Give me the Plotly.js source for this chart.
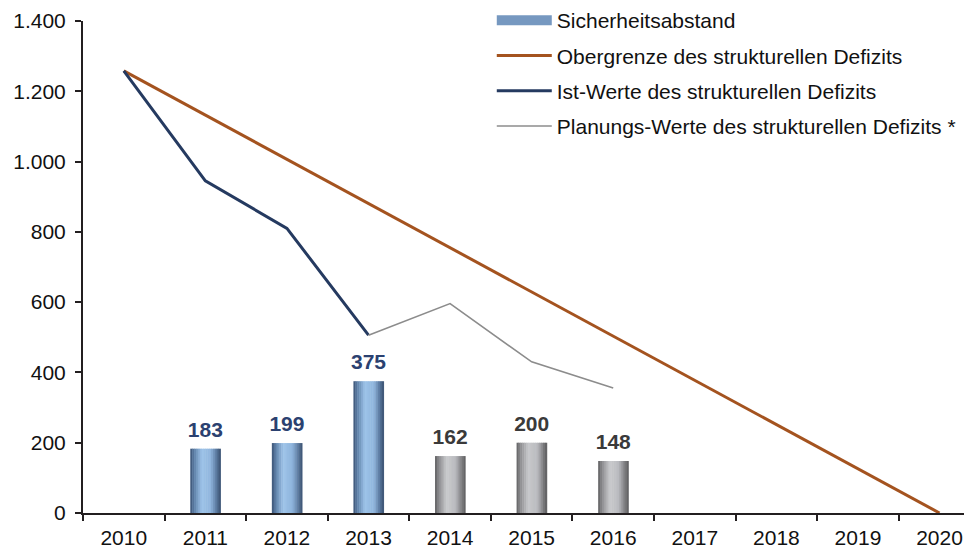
<!DOCTYPE html>
<html>
<head>
<meta charset="utf-8">
<script src="https://cdn.plot.ly/plotly-3.0.1.min.js"></script>
<style>html,body{margin:0;padding:0;background:#fff;}#chart{width:964px;height:548px;}</style>
</head>
<body>
<div id="chart"></div>
<script>
// ---- Data ----
var years = ['2010','2011','2012','2013','2014','2015','2016','2017','2018','2019','2020'];
var barYears = ['2011','2012','2013','2014','2015','2016'];
var barValues = [183, 199, 375, 162, 200, 148];
var barKind = ['ist','ist','ist','plan','plan','plan'];
var limitYears = ['2010','2020'];
var limitValues = [1258, 0];
var istYears = ['2010','2011','2012','2013'];
var istValues = [1258, 945, 810, 506];
var planYears = ['2013','2014','2015','2016'];
var planValues = [506, 596, 430, 356];
var legendNames = ['Sicherheitsabstand','Obergrenze des strukturellen Defizits','Ist-Werte des strukturellen Defizits','Planungs-Werte des strukturellen Defizits *'];

// ---- Styles ----
var FONT = 'Liberation Sans, Arial, sans-serif';
var gradStops = {
  ist:  [[0,[58,82,115]],[0.12,[92,126,166]],[0.38,[158,196,233]],[0.68,[142,180,220]],[0.88,[88,118,156]],[1,[58,80,112]]],
  plan: [[0,[96,96,98]],[0.12,[138,138,141]],[0.38,[200,201,204]],[0.68,[186,187,191]],[0.88,[126,126,129]],[1,[92,92,94]]]
};
function gradColor(kind, t){
  var s = gradStops[kind];
  for (var i=0;i<s.length-1;i++){
    if (t>=s[i][0] && t<=s[i+1][0]){
      var f=(t-s[i][0])/(s[i+1][0]-s[i][0]);
      var c=s[i][1].map(function(v,j){return Math.round(v+(s[i+1][1][j]-v)*f);});
      return 'rgb('+c.join(',')+')';
    }
  }
  return 'rgb('+s[s.length-1][1].join(',')+')';
}
var BAR_W = 0.37, N = 16;
var traces = [];
for (var k=0;k<N;k++){
  var t=(k+0.5)/N;
  traces.push({
    type:'bar', x:barYears, y:barValues,
    width: BAR_W/N*1.25, offset: -BAR_W/2 + k*BAR_W/N,
    marker:{color: barKind.map(function(kd){return gradColor(kd,t);}), line:{width:0}},
    showlegend:false, legendgroup:'g0', hoverinfo:'skip'
  });
}
// legend entry for bars
traces.push({type:'scatter', mode:'lines', x:[null], y:[null], name:legendNames[0],
  line:{color:'#7698c0', width:10}, legendgroup:'g0', showlegend:true});
// value labels above bars
traces.push({type:'scatter', mode:'markers+text', x:barYears, y:barValues,
  text: barValues.map(String), textposition:'top center',
  marker:{size:9, opacity:0, color:'#fff'},
  textfont:{family:FONT, size:21, weight:'bold', color: barKind.map(function(kd){return kd==='ist'?'#2b4170':'#3a3a3a';})},
  showlegend:false, hoverinfo:'skip', cliponaxis:false});
traces.push({type:'scatter', mode:'lines', x:limitYears, y:limitValues, name:legendNames[1],
  line:{color:'#a4531f', width:3}, legendgroup:'g1'});
traces.push({type:'scatter', mode:'lines', x:istYears, y:istValues, name:legendNames[2],
  line:{color:'#253a60', width:3}, legendgroup:'g2'});
traces.push({type:'scatter', mode:'lines', x:planYears, y:planValues, name:legendNames[3],
  line:{color:'#8c8c8c', width:1.6}, legendgroup:'g3'});

var layout = {
  width:964, height:548,
  margin:{l:83, r:0, t:0, b:35, pad:0},
  paper_bgcolor:'#fff', plot_bgcolor:'#fff',
  separators:',.',
  barmode:'overlay',
  font:{family:FONT, size:21, color:'#111'},
  xaxis:{type:'category', categoryorder:'array', categoryarray:years, range:[-0.5,10.3],
    showgrid:false, zeroline:false, showline:true, linecolor:'#231f20', linewidth:2,
    ticks:'outside', tickson:'boundaries', ticklen:6, tickwidth:2, tickcolor:'#231f20',
    ticklabelstandoff:5,
    tickfont:{family:FONT, size:21, color:'#111'}, fixedrange:true},
  yaxis:{domain:[0, 0.9591], range:[0,1400], dtick:200, tickformat:',d', showgrid:false, zeroline:false,
    showline:true, linecolor:'#231f20', linewidth:2, ticks:'outside', ticklen:6, tickwidth:2,
    tickcolor:'#231f20', ticklabelstandoff:5, tickfont:{family:FONT, size:21, color:'#111'}, fixedrange:true},
  showlegend:true,
  legend:{x:0.464, xanchor:'left', y:1, yanchor:'top', bgcolor:'rgba(0,0,0,0)', borderwidth:0,
    traceorder:'grouped', tracegroupgap:5, itemwidth:55, font:{family:FONT, size:21, color:'#111'}}
};
Plotly.newPlot('chart', traces, layout, {displayModeBar:false, staticPlot:true});
</script>
</body>
</html>
